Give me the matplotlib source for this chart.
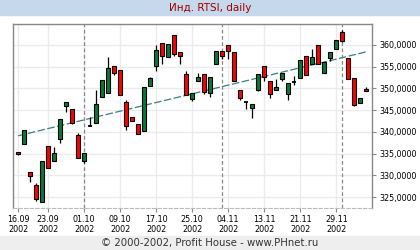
import numpy as np
import matplotlib.pyplot as plt
from matplotlib.patches import Rectangle
from matplotlib.ticker import FuncFormatter

# торговые дни
dates = ['16.09', '17.09', '18.09', '19.09', '20.09', '23.09', '24.09', '25.09', '26.09', '27.09', '30.09',
         '01.10', '02.10', '03.10', '04.10', '07.10', '08.10', '09.10', '10.10', '11.10', '14.10', '15.10',
         '16.10', '17.10', '18.10', '21.10', '22.10', '23.10', '24.10', '25.10', '28.10', '29.10', '30.10',
         '31.10', '01.11', '04.11', '05.11', '06.11', '08.11', '11.11', '12.11', '13.11', '14.11', '15.11',
         '18.11', '19.11', '20.11', '21.11', '22.11', '25.11', '26.11', '27.11', '28.11', '29.11',
         '02.12', '03.12', '04.12', '05.12', '06.12']

opens = [335.3, 337.1, 330.7, 327.9, 323.9, 336.8, 333.2, 338.3, 345.9, 345.2, 339.2,
         333.2, 341.3, 342.0, 348.1, 348.9, 355.1, 354.2, 346.8, 343.4, 341.7, 340.1,
         350.5, 355.1, 360.4, 357.2, 362.2, 358.3, 353.3, 347.5, 351.6, 353.3, 348.9,
         355.6, 358.5, 359.9, 358.3, 349.6, 346.8, 345.4, 349.6, 355.1, 351.6, 349.6,
         352.1, 348.6, 351.4, 352.3, 357.4, 355.6, 359.9, 353.5, 356.9, 359.0,
         362.9, 356.9, 352.3, 346.6, 349.8]
highs = [335.3, 340.4, 330.7, 328.2, 333.4, 336.8, 336.6, 342.9, 346.8, 345.2, 339.7,
         335.1, 343.5, 349.6, 351.9, 357.3, 355.1, 354.2, 347.3, 343.4, 341.7, 350.3,
         352.6, 359.9, 360.4, 360.2, 362.2, 358.3, 353.9, 348.9, 353.5, 353.3, 352.6,
         358.5, 358.5, 359.9, 358.3, 349.6, 346.8, 346.3, 353.3, 355.1, 351.6, 352.1,
         353.5, 351.2, 352.8, 356.5, 357.4, 359.0, 359.9, 356.0, 358.3, 361.1,
         363.4, 356.9, 352.3, 347.7, 350.3]
lows = [334.7, 337.1, 328.4, 324.1, 323.9, 331.6, 333.2, 337.4, 344.5, 341.7, 334.0,
        332.9, 341.3, 342.0, 348.1, 348.9, 353.0, 348.4, 340.4, 342.4, 339.4, 340.1,
        350.5, 353.9, 355.6, 357.2, 357.4, 355.6, 348.4, 347.2, 351.6, 348.8, 348.0,
        355.6, 356.7, 356.7, 351.6, 347.3, 345.2, 343.1, 349.3, 351.6, 347.7, 349.6,
        351.6, 347.3, 350.7, 352.3, 353.0, 355.6, 355.6, 353.5, 356.2, 359.0,
        360.6, 352.1, 345.9, 346.6, 349.3]
closes = [334.9, 340.4, 329.8, 324.5, 333.4, 331.6, 335.1, 342.9, 346.8, 342.0, 334.0,
          335.1, 341.3, 346.3, 351.9, 354.6, 353.5, 348.4, 341.3, 342.4, 339.4, 350.3,
          352.3, 358.8, 357.4, 360.2, 357.9, 357.4, 348.4, 348.9, 352.6, 349.1, 352.6,
          358.5, 357.4, 358.5, 351.6, 347.7, 346.8, 346.3, 353.3, 352.6, 348.6, 350.3,
          353.5, 351.2, 351.4, 356.5, 353.0, 357.2, 355.6, 356.0, 358.3, 361.1,
          360.9, 352.1, 346.1, 347.7, 349.3]

# линия тренда (начало и конец)
trend_ends = [339.1, 358.4]

tick_dates = ['16.09', '23.09', '01.10', '09.10', '17.10', '25.10', '04.11', '13.11', '21.11', '29.11']
y_ticks = [325, 330, 335, 340, 345, 350, 355, 360]

o = np.array(opens)
h = np.array(highs)
l = np.array(lows)
c = np.array(closes)
x = np.arange(len(dates))

fig = plt.figure(figsize=(4.2, 2.5), dpi=100)

# полосы заголовка и подвала
fig.patches.append(Rectangle((0, 0.94), 1, 0.06, transform=fig.transFigure, color='#c6d9ec', zorder=0))
fig.patches.append(Rectangle((0, 0), 1, 0.055, transform=fig.transFigure, color='#eeeeee', zorder=0))
fig.text(0.5, 0.968, 'Инд. RTSI, daily', ha='center', va='center', color='#a00000', fontsize=7.5)
fig.text(0.5, 0.027, '© 2000-2002, Profit House - www.PHnet.ru', ha='center', va='center',
         color='#333333', fontsize=7.3)

ax = fig.add_axes([13 / 420, 42 / 250, 359 / 420, 184 / 250])

# сетка
tick_idx = [dates.index(d) for d in tick_dates]
for t in tick_idx:
    ax.axvline(t, color='#ebebeb', lw=1, zorder=0)
for yv in y_ticks:
    ax.axhline(yv, color='#ebebeb', lw=1, zorder=0)

# границы месяцев
for i in range(1, len(dates)):
    if dates[i][3:] != dates[i - 1][3:]:
        ax.axvline(i, color='#888888', lw=0.9, ls=(0, (3, 2)), zorder=1)

# тренд
ax.plot([x[0], x[-1]], trend_ends, color='#3a7f7f', lw=0.9, ls=(0, (6, 2)), zorder=2)

# свечи
ax.vlines(x, l, h, color='black', lw=0.9, zorder=3)
up = c > o
down = c < o
doji = c == o
ax.bar(x[up], (c - o)[up], bottom=o[up], width=0.66, color='#08783a', edgecolor='black', lw=0.8, zorder=4)
ax.bar(x[down], (o - c)[down], bottom=c[down], width=0.66, color='#ff0000', edgecolor='black', lw=0.8, zorder=4)
ax.hlines(o[doji], x[doji] - 0.33, x[doji] + 0.33, color='black', lw=1.3, zorder=4)

ax.set_xlim(-0.85, 58.95)
ax.set_ylim(322.5, 364.8)

ax.yaxis.tick_right()
ax.set_yticks(y_ticks)
ax.yaxis.set_major_formatter(FuncFormatter(lambda v, p: f'{v:.4f}'.replace('.', ',')))
ax.set_xticks(tick_idx)
ax.set_xticklabels([d + '\n2002' for d in tick_dates])
ax.tick_params(axis='both', length=3, color='#888888', labelsize=5.8, pad=2)

for s in ['top', 'left', 'right']:
    ax.spines[s].set_color('#888888')
    ax.spines[s].set_linewidth(1)
ax.spines['bottom'].set_color('#bbbbbb')
ax.spines['bottom'].set_linestyle((0, (3, 2)))

fig.savefig('out.png', dpi=100)
